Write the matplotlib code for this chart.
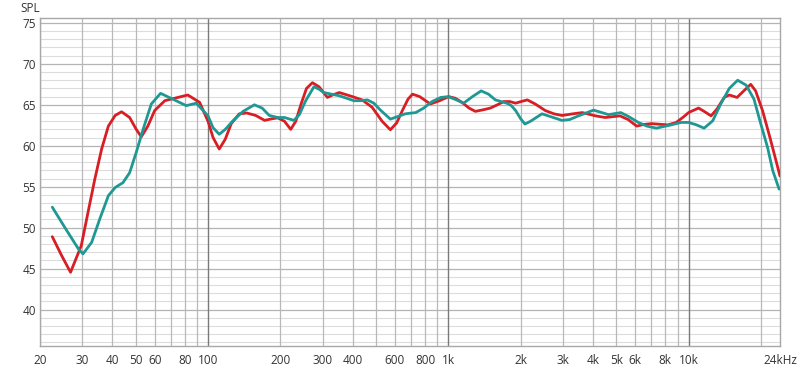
import matplotlib
matplotlib.use("Agg")
import matplotlib.pyplot as plt

plt.rcParams['font.family'] = ['Open Sans', 'DejaVu Sans']

# Red series (frequency Hz, SPL dB)
red_freq = [22.5, 24.6, 26.8, 29.7, 31.7, 33.8, 36.1, 38.5, 41.1, 43.7, 47.2, 50.3, 52.8, 56.2,
            60.0, 66.1, 72.6, 82.4, 92.3, 100, 105, 111.4, 118, 125, 135, 145, 158, 172, 185,
            195, 208, 221, 232, 244, 257, 272, 290, 314, 330, 352, 399, 438, 482, 530, 574, 610,
            644, 680, 710, 760, 842, 920, 1004, 1070, 1140, 1220, 1296, 1400, 1496, 1600, 1702,
            1800, 1906, 2010, 2132, 2300, 2532, 2750, 2972, 3300, 3610, 4100, 4500, 5180, 5600,
            6080, 6500, 7000, 8200, 8880, 9500, 10000, 11000, 11600, 12400, 13130, 14060, 14760,
            15900, 17100, 18130, 19000, 20300, 21800, 22900, 24000]
red_spl = [48.9, 46.6, 44.55, 47.8, 51.9, 55.9, 59.6, 62.4, 63.7, 64.15, 63.45, 62.0, 61.1, 62.4,
           64.3, 65.5, 65.8, 66.2, 65.3, 63.0, 61.0, 59.6, 60.8, 62.7, 63.9, 64.0, 63.7, 63.1, 63.3,
           63.4, 63.0, 62.0, 63.0, 65.1, 67.0, 67.7, 67.2, 65.9, 66.2, 66.5, 66.0, 65.6, 64.7, 63.0, 61.95, 62.8,
           64.3, 65.7, 66.3, 66.0, 65.1, 65.5, 66.0, 65.8, 65.3, 64.6, 64.2, 64.4, 64.6, 65.0, 65.4,
           65.4, 65.2, 65.4, 65.6, 65.1, 64.3, 63.9, 63.7, 63.9, 64.05, 63.65, 63.45, 63.65, 63.2,
           62.4, 62.6, 62.7, 62.55, 62.85, 63.5, 64.06, 64.6, 64.2, 63.65, 64.5, 65.9, 66.2,
           65.9, 66.8, 67.5, 66.7, 64.3, 61.0, 58.6, 56.3]

# Teal series
teal_freq = [22.5, 25.4, 28.9, 30.2, 32.8, 35.5, 38.5, 41.1, 44.3, 47.2, 50.3, 53.7, 58.1, 63.5,
             70.1, 81.2, 89.4, 100, 105, 111.4, 118, 127, 140, 156, 168, 180, 195, 208, 228, 240,
             255, 276, 290, 303, 352, 405, 430, 460, 490, 520, 574, 620, 662, 732, 790, 856, 930,
             1000, 1080, 1158, 1260, 1370, 1470, 1570, 1752, 1830, 1906, 2000, 2084, 2200, 2454,
             2700, 2972, 3200, 3480, 4020, 4300, 4640, 5220, 5600, 6180, 6700, 7340, 8460, 9300,
             10000, 10780, 11600, 12600, 13600, 14760, 16000, 17350, 18700, 19800, 21300, 22400,
             23800]
teal_spl = [52.5, 50.0, 47.4, 46.8, 48.2, 51.1, 53.9, 54.9, 55.5, 56.7, 59.2, 62.0, 65.1, 66.4,
            65.8, 64.9, 65.2, 63.65, 62.2, 61.4, 62.0, 63.05, 64.2, 65.0, 64.6, 63.7, 63.45, 63.45, 63.1, 63.8,
            65.5, 67.2, 66.9, 66.5, 66.1, 65.5, 65.5, 65.6, 65.2, 64.4, 63.25, 63.6, 63.9, 64.05, 64.6, 65.4, 65.9,
            66.0, 65.6, 65.2, 66.0, 66.7, 66.3, 65.6, 65.2, 64.9, 64.3, 63.3, 62.65, 63.0, 63.9,
            63.5, 63.1, 63.2, 63.65, 64.35, 64.1, 63.8, 64.05, 63.6, 62.85, 62.4, 62.15, 62.55, 62.85,
            62.85, 62.55, 62.15, 63.05, 65.1, 67.0, 68.0, 67.4, 65.7, 63.05, 59.8, 56.95,
            54.7]

x_tick_vals = [20, 30, 40, 50, 60, 80, 100, 200, 300, 400, 600, 800, 1000, 2000, 3000, 4000,
               5000, 6000, 8000, 10000, 24000]
x_tick_labels = ['20', '30', '40', '50', '60', '80', '100', '200', '300', '400', '600', '800',
                 '1k', '2k', '3k', '4k', '5k', '6k', '8k', '10k', '24kHz']
y_tick_vals = [40, 45, 50, 55, 60, 65, 70, 75]

fig = plt.figure(figsize=(8.0, 3.71), dpi=100)
ax = fig.add_axes([40/800, 25/371, 740/800, 328/371])
ax.set_xscale('log')
ax.set_xlim(20, 24000)
ax.set_ylim(35.55, 75.6)

# grid: horizontal
for v in range(36, 76):
    if v % 5 == 0:
        ax.axhline(v, color='#b4b4b4', lw=0.9, zorder=1)
    else:
        ax.axhline(v, color='#dcdcdc', lw=0.8, zorder=0.5)
# grid: vertical
for dec in [10, 100, 1000, 10000]:
    for m in range(1, 10):
        f = dec * m
        if f < 20 or f > 24000:
            continue
        if m == 1:
            ax.axvline(f, color='#7a7a7a', lw=1.0, zorder=1.2)
        else:
            ax.axvline(f, color='#b8b8b8', lw=0.9, zorder=1)

ax.plot(red_freq, red_spl, color='#d81e25', lw=2.0, zorder=3,
        solid_joinstyle='round', solid_capstyle='round')
ax.plot(teal_freq, teal_spl, color='#1f9893', lw=2.0, zorder=4,
        solid_joinstyle='round', solid_capstyle='round')

ax.set_xticks(x_tick_vals)
ax.set_xticklabels(x_tick_labels)
ax.xaxis.set_minor_locator(matplotlib.ticker.NullLocator())
ax.set_yticks(y_tick_vals)
ax.tick_params(axis='both', length=0, labelsize=8.5, colors='#333333')
ax.tick_params(axis='x', pad=6)
ax.tick_params(axis='y', pad=3)
for s in ax.spines.values():
    s.set_color('#a8a8a8')
    s.set_linewidth(1.0)

fig.text(20/800, 1 - 8/371, 'SPL', fontsize=8.5, color='#333333', va='center', ha='left')

fig.savefig('out.png', dpi=100)
